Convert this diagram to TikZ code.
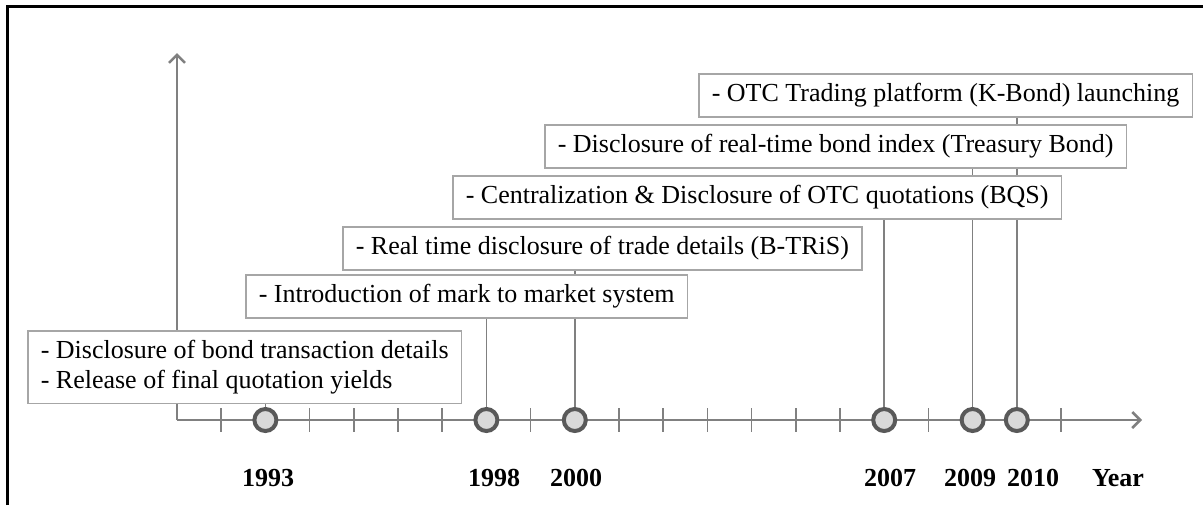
\documentclass[tikz,border=0pt]{standalone}
\usepackage{fontspec}
\setmainfont{Liberation Serif}
\usetikzlibrary{arrows.meta,backgrounds}
\tikzset{
evbox/.style={
  draw=black!35,
  line width=0.75pt,
  fill=white,
  anchor=north west,
  inner xsep=6.5pt,
  inner ysep=0pt,
  minimum height=21.5pt,
  font=\fontsize{13}{15}\selectfont
  },
yrdot/.style={
  circle,
  draw=black!65,
  fill=black!15,
  line width=2pt,
  minimum size=11pt,
  inner sep=0pt
  },
yrlab/.style={anchor=base, font=\fontsize{13}{15}\selectfont\bfseries},
link/.style={draw=black!50, line width=0.75pt},
axis/.style={draw=black!50, line width=1.25pt}
}

\begin{document}
\begin{tikzpicture}[x=0.5pt, y=-0.5pt, >={Straight Barb[length=4pt,width=8pt]}]
\useasboundingbox (0,0) rectangle (1203,505);
\draw[line width=1.5pt] (7,505) -- (7,6) -- (1203,6);

\coordinate (orig) at (177,420);
\coordinate (xend) at (1142,420);
\coordinate (yend) at (177,53);

\node[yrdot] (dot1993) at (265.4,420) {};
\node[yrdot] (dot1998) at (486.4,420) {};
\node[yrdot] (dot2000) at (574.8,420) {};
\node[yrdot] (dot2007) at (884.2,420) {};
\node[yrdot] (dot2009) at (972.6,420) {};
\node[yrdot] (dot2010) at (1016.8,420) {};

\node[yrlab] (lab1993) at (268,486) {1993};
\node[yrlab] (lab1998) at (494,486) {1998};
\node[yrlab] (lab2000) at (576,486) {2000};
\node[yrlab] (lab2007) at (890,486) {2007};
\node[yrlab] (lab2009) at (970,486) {2009};
\node[yrlab] (lab2010) at (1033,486) {2010};
\node[yrlab] (labyear) at (1118,486) {Year};

\node[evbox, align=left, inner ysep=4.7pt, minimum height=0pt] (box1993) at (27,330)
{- Disclosure of bond transaction details\\- Release of final quotation yields};
\node[evbox] (box1998) at (245,274) {- Introduction of mark to market system};
\node[evbox] (box2000) at (342,226) {- Real time disclosure of trade details (B-TRiS)};
\node[evbox] (box2007) at (452,175) {- Centralization \& Disclosure of OTC quotations (BQS)};
\node[evbox] (box2009) at (544,124) {- Disclosure of real-time bond index (Treasury Bond)};
\node[evbox] (box2010) at (698,73) {- OTC Trading platform (K-Bond) launching};

\begin{scope}[on background layer]
\draw[axis,->] (orig) -- (xend);
\draw[axis,->] (orig) -- (yend);
\foreach \n in {1,3,4,5,6,8,10,11,12,13,14,15,17,20}
  \draw[link] (177+\n*44.2,408) -- ++(0,24);
\draw[link] (dot1993) -- (dot1993 |- box1993.south);
\draw[link] (dot1998) -- (dot1998 |- box1998.south);
\draw[link] (dot2000) -- (dot2000 |- box2000.south);
\draw[link] (dot2007) -- (dot2007 |- box2007.south);
\draw[link] (dot2009) -- (dot2009 |- box2009.south);
\draw[link] (dot2010) -- (dot2010 |- box2010.south);
\end{scope}
\end{tikzpicture}
\end{document}
